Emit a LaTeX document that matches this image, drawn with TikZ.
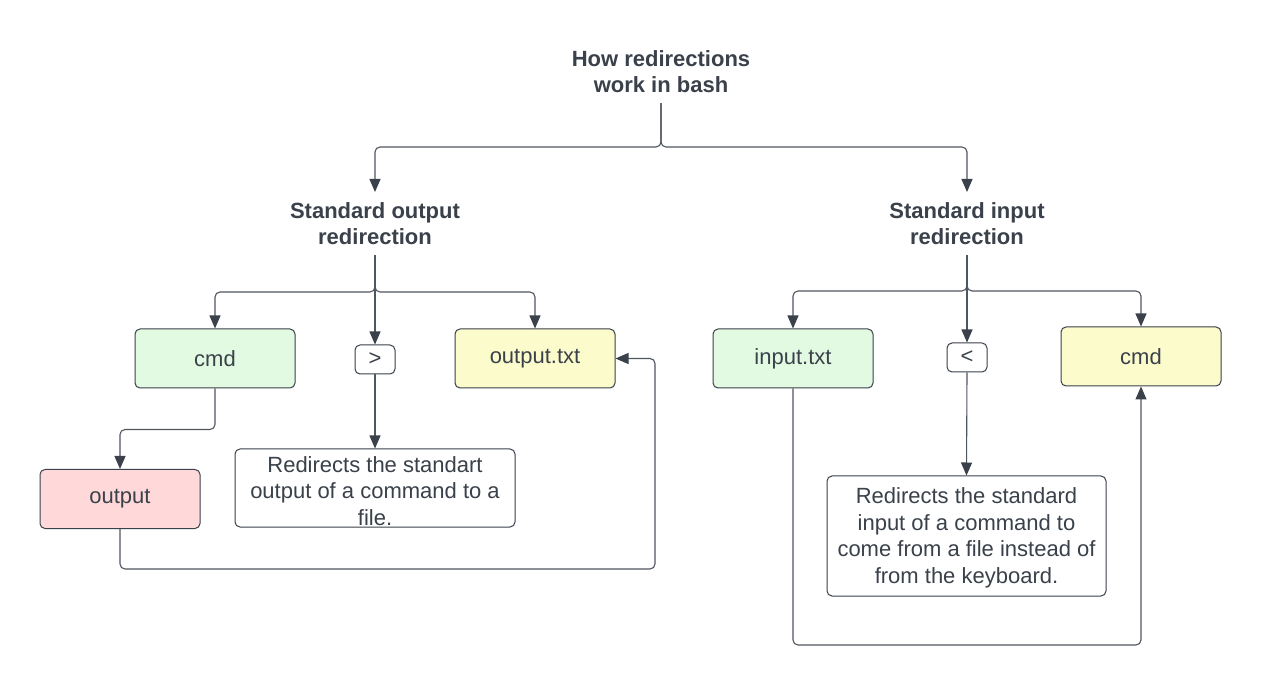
\documentclass[tikz,border=0pt]{standalone}
\usepackage{fontspec}
\setmainfont{Liberation Sans}
\usetikzlibrary{arrows.meta}
\definecolor{ink}{HTML}{3A414A}
\definecolor{lineC}{HTML}{50565E}
\definecolor{gfill}{HTML}{E2FAE2}
\definecolor{yfill}{HTML}{FCFBCC}
\definecolor{pfill}{HTML}{FFD9D9}
\begin{document}
\begin{tikzpicture}[x=1pt,y=-1pt,
 every node/.style={text=ink, font=\fontsize{22}{26.5}\selectfont},
 hdr/.style={font=\fontsize{22}{26.5}\selectfont\bfseries, align=center, inner xsep=4pt, inner ysep=10pt},
 box/.style={draw=ink, line width=1pt, rounded corners=5pt, minimum width=160pt, minimum height=59pt, inner sep=0pt},
 smallbox/.style={box, minimum width=40pt, minimum height=29pt},
 desc/.style={box, align=center},
 conn/.style={draw=lineC, line width=1.1pt, rounded corners=5pt},
 arr/.style={conn, -{Triangle[length=13pt,width=11pt,color=ink]}}]
\fill[white] (0,0) rectangle (1275,700);
\useasboundingbox (0,0) rectangle (1275,700);

% headers
\node[hdr] (title) at (661,71.5) {How redirections\\work in bash};
\node[hdr] (hout) at (375,223.5) {Standard output\\redirection};
\node[hdr] (hin) at (967,223.5) {Standard input\\redirection};

% left group
\node[box, fill=gfill] (cmdL) at (215,358.5) {cmd};
\node[smallbox, fill=white] (gt) at (375,359.5) {>};
\node[box, fill=yfill] (otxt) at (535,358.5) {output.txt};
\node[box, fill=pfill] (outL) at (120,499) {output};
\node[desc, fill=white, minimum width=280pt, minimum height=78pt] (descL) at (375,488)
  {\rule{0pt}{22pt}Redirects the standart\\output of a command to a\\file.};

% right group
\node[box, fill=gfill] (itxt) at (793,358.5) {input.txt};
\node[smallbox, fill=white] (lt) at (967,357.5) {<};
\node[box, fill=yfill] (cmdR) at (1141,356.5) {cmd};
\node[desc, fill=white, minimum width=279pt, minimum height=120pt] (descR) at (966.5,536)
  {\rule{0pt}{20pt}Redirects the standard\\input of a command to\\come from a file instead of\\from the keyboard.};

% junction coordinates
\coordinate (s0) at (661,147);
\coordinate (s1) at (375,292);
\coordinate (s2) at (967,291);
\coordinate (c2) at (655,569);
\coordinate (c3) at (1141,645);

% top level
\draw[arr] (title.south) -- (s0) -| (hout.north);
\draw[arr] (title.south) -- (s0) -| (hin.north);

% left level
\draw[arr] (hout.south) -- (s1) -| (cmdL.north);
\draw[arr] (hout.south) -- (s1) -| (otxt.north);
\draw[arr] (hout.south) -- (gt.north);
\draw[arr] (cmdL.south) -- ++(0,41) -| (outL.north);
\draw[arr] (gt.south) -- (descL.north);
\draw[arr] (outL.south) |- (c2) |- (otxt.east);

% right level
\draw[arr] (hin.south) -- (s2) -| (itxt.north);
\draw[arr] (hin.south) -- (s2) -| (cmdR.north);
\draw[arr] (hin.south) -- (lt.north);
\draw[arr] (lt.south) -- (descR.north);
\draw[arr] (itxt.south) |- (c3) -- (cmdR.south);
\end{tikzpicture}
\end{document}
